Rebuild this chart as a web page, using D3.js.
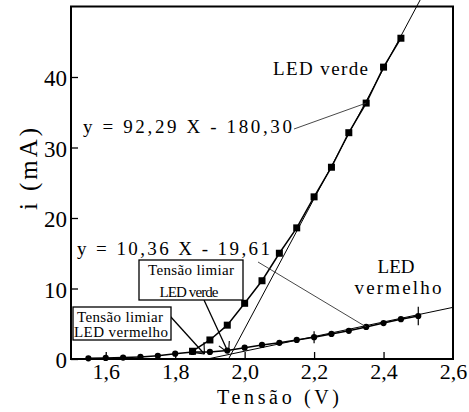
<!DOCTYPE html>
<html><head><meta charset="utf-8">
<script src="https://cdn.jsdelivr.net/npm/d3@7"></script>
<style>
html,body{margin:0;padding:0;background:#fff;}
svg{display:block;font-family:"Liberation Serif","Times New Roman",serif;}
svg text{font-family:"Liberation Serif","Times New Roman",serif;}
</style></head><body>
<svg id="chart" width="469" height="412"></svg>
<script>
// Curva i x V de dois LEDs (vermelho e verde)
const redV   = [1.55, 1.60, 1.65, 1.70, 1.75, 1.80, 1.85, 1.90, 1.95, 2.00, 2.05, 2.10, 2.15, 2.20, 2.25, 2.30, 2.35, 2.40, 2.45, 2.50];
const redI   = [0.10, 0.15, 0.20, 0.30, 0.45, 0.75, 1.00, 1.00, 1.20, 1.60, 2.00, 2.30, 2.70, 3.10, 3.55, 4.00, 4.55, 5.10, 5.65, 6.10];
const greenV = [1.85, 1.90, 1.95, 2.00, 2.05, 2.10, 2.15, 2.20, 2.25, 2.30, 2.35, 2.40, 2.45];
const greenI = [1.10, 2.70, 4.80, 7.90, 11.1, 15.0, 18.6, 23.0, 27.2, 32.1, 36.3, 41.4, 45.5];
// barras de erro (LED vermelho)
const redErrV = [2.20, 2.50];
const redErrI = [0.85, 1.30];
// ajustes lineares: [inclinação, coeficiente linear]
const redFit   = [10.36, -19.61];
const greenFit = [92.29, -180.30];
// eixos
const xTickValues = [1.6, 1.8, 2.0, 2.2, 2.4, 2.6];
const xTickLabels = ["1,6", "1,8", "2,0", "2,2", "2,4", "2,6"];
const yTickValues = [0, 10, 20, 30, 40];
const yTickLabels = ["0", "10", "20", "30", "40"];

const FONT = "Liberation Serif";
const svg = d3.select("#chart");
const x = d3.scaleLinear().domain([1.5, 2.6]).range([71, 453]);
const y = d3.scaleLinear().domain([0, 50]).range([359, 6.5]);

const comma = v => v.toFixed(2).replace(".", ",");

// eixo x (ticks para dentro)
const gx = svg.append("g").attr("transform", `translate(0,${y(0)})`)
  .call(d3.axisBottom(x).tickValues(xTickValues)
    .tickFormat((d, i) => xTickLabels[i]).tickSizeInner(-7).tickSizeOuter(0))
  .attr("font-family", FONT);
gx.select(".domain").remove();
gx.selectAll(".tick line").attr("stroke", "#000").attr("stroke-width", 1.3)
  .filter(d => d >= 2.6).remove();
gx.selectAll(".tick text").attr("y", 20).attr("dy", 0)
  .attr("font-size", 22).attr("fill", "#000");

// eixo y
const gy = svg.append("g").attr("transform", `translate(${x(1.5)},0)`)
  .call(d3.axisLeft(y).tickValues(yTickValues)
    .tickFormat((d, i) => yTickLabels[i]).tickSizeInner(-7).tickSizeOuter(0))
  .attr("font-family", FONT);
gy.select(".domain").remove();
gy.selectAll(".tick line").attr("stroke", "#000").attr("stroke-width", 1.3);
gy.selectAll(".tick text").attr("x", -4).attr("dy", "0.38em")
  .attr("font-size", 23).attr("fill", "#000");

// moldura
svg.append("rect").attr("x", x(1.5)).attr("y", y(50))
  .attr("width", x(2.6) - x(1.5)).attr("height", y(0) - y(50))
  .attr("fill", "none").attr("stroke", "#000").attr("stroke-width", 2);

// retas de ajuste
function fitLine(fit, vEnd) {
  const v0 = -fit[1] / fit[0];
  return [[v0, 0], [vEnd, fit[0] * vEnd + fit[1]]];
}
const lineGen = d3.line().x(d => x(d[0])).y(d => y(d[1]));
svg.append("path").attr("d", lineGen(fitLine(redFit, 2.6)))
  .attr("fill", "none").attr("stroke", "#000").attr("stroke-width", 1);
svg.append("path").attr("d", lineGen(fitLine(greenFit, (51 - greenFit[1]) / greenFit[0])))
  .attr("fill", "none").attr("stroke", "#000").attr("stroke-width", 1);

// dados
const redPts = redV.map((v, i) => [v, redI[i]]);
const greenPts = greenV.map((v, i) => [v, greenI[i]]);
svg.append("path").attr("d", lineGen(redPts))
  .attr("fill", "none").attr("stroke", "#000").attr("stroke-width", 1.5);
svg.append("path").attr("d", lineGen(greenPts))
  .attr("fill", "none").attr("stroke", "#000").attr("stroke-width", 1.5);

// barras de erro
svg.selectAll(".err").data(redErrV).join("line").attr("class", "err")
  .attr("x1", d => x(d)).attr("x2", d => x(d))
  .attr("y1", (d, i) => y(redI[redV.indexOf(d)] + redErrI[i]))
  .attr("y2", (d, i) => y(redI[redV.indexOf(d)] - redErrI[i]))
  .attr("stroke", "#000").attr("stroke-width", 1.2);

svg.selectAll(".ptR").data(redPts).join("circle").attr("class", "ptR")
  .attr("cx", d => x(d[0])).attr("cy", d => y(d[1])).attr("r", 3.1).attr("fill", "#000");
svg.selectAll(".ptG").data(greenPts).join("rect").attr("class", "ptG")
  .attr("x", d => x(d[0]) - 3.5).attr("y", d => y(d[1]) - 3.5)
  .attr("width", 7).attr("height", 7).attr("fill", "#000");

// textos
function txt(str, px, py, size, len, anchor) {
  const t = svg.append("text").attr("x", px).attr("y", py).attr("font-size", size)
    .attr("font-family", FONT)
    .attr("fill", "#000").attr("text-anchor", anchor || "start").text(str);
  if (len) t.attr("textLength", len).attr("lengthAdjust", "spacing");
  return t;
}

const eqGreen = `y = ${comma(greenFit[0])} X - ${comma(-greenFit[1])}`;
const eqRed = `y = ${comma(redFit[0])} X - ${comma(-redFit[1])}`;
txt("LED verde", 273, 75, 19, 95);
txt(eqGreen, 83, 133, 19, 209);
txt(eqRed, 77, 255, 19, 193);
txt("LED", 396, 273, 19, null, "middle");
txt("vermelho", 398, 294, 19, 87, "middle");

// linhas de chamada das equações
const iG = greenV.indexOf(2.35), iR = redV.indexOf(2.35);
svg.append("line").attr("x1", 294).attr("y1", 129)
  .attr("x2", x(greenV[iG])).attr("y2", y(greenI[iG]))
  .attr("stroke", "#333").attr("stroke-width", 0.9);
svg.append("line").attr("x1", 258).attr("y1", 262)
  .attr("x2", x(redV[iR])).attr("y2", y(redI[iR]))
  .attr("stroke", "#333").attr("stroke-width", 0.9);

// caixas de tensão limiar com setas
function arrow(x1, y1, x2, y2, spread) {
  const a = Math.atan2(y2 - y1, x2 - x1) + Math.PI;
  const L = 12;
  svg.append("line").attr("x1", x1).attr("y1", y1).attr("x2", x2).attr("y2", y2)
    .attr("stroke", "#000").attr("stroke-width", 1.3);
  [spread, -spread].forEach(s => {
    svg.append("line").attr("x1", x2).attr("y1", y2)
      .attr("x2", x2 + L * Math.cos(a + s)).attr("y2", y2 + L * Math.sin(a + s))
      .attr("stroke", "#000").attr("stroke-width", 1.1);
  });
}
const thrRed = -redFit[1] / redFit[0];
const thrGreen = -greenFit[1] / greenFit[0];
arrow(170, 316, x(thrRed) - 3, y(0) - 5, 0.7);
arrow(204, 300, x(thrGreen), y(0) - 6, 0.5);

svg.append("rect").attr("x", 139).attr("y", 260).attr("width", 104).attr("height", 40)
  .attr("fill", "#fff").attr("stroke", "#000").attr("stroke-width", 1.3);
txt("Tensão limiar", 191, 275, 15, 86, "middle");
txt("LED verde", 189, 297, 15, 59, "middle");

svg.append("rect").attr("x", 73).attr("y", 307).attr("width", 98).attr("height", 33)
  .attr("fill", "#fff").attr("stroke", "#000").attr("stroke-width", 1.3);
txt("Tensão limiar", 120, 322, 15, 86, "middle");
txt("LED vermelho", 121, 337, 15, 94, "middle");

// títulos dos eixos
txt("Tensão (V)", 278, 404, 20, 122, "middle");
svg.append("text").attr("transform", "translate(37,169) rotate(-90)")
  .attr("text-anchor", "middle").attr("font-size", 25).attr("font-family", FONT)
  .attr("fill", "#000")
  .attr("textLength", 82).attr("lengthAdjust", "spacing").text("i (mA)");
</script>
</body></html>
